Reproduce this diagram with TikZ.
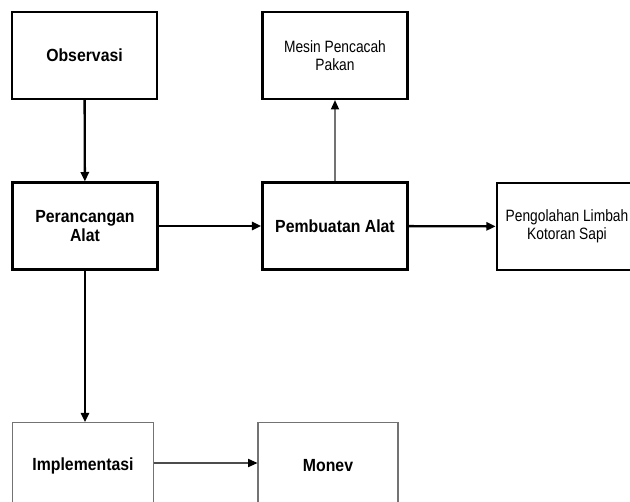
\documentclass[tikz,border=0pt]{standalone}
\usepackage{fontspec}
\setmainfont{Liberation Sans}
\newfontfamily\labelfont[FakeStretch=0.9]{Liberation Sans}
\newfontfamily\narrowfont[FakeStretch=0.84]{Liberation Sans}
\usetikzlibrary{arrows.meta}
\tikzset{>={Stealth[length=8pt,width=7pt,inset=0pt]}}

\begin{document}
\begin{tikzpicture}[x=0.03cm,y=-0.03cm,
  kotak/.style={draw, line width=2.2pt, minimum width=4.35cm, minimum height=2.6cm,
    align=center, inner sep=0pt, font=\labelfont\bfseries\fontsize{15}{16}\selectfont},
  kotakbiasa/.style={kotak, font=\narrowfont\fontsize{14}{15}\selectfont},
  kotaktipis/.style={kotak, draw=black!55, line width=0.9pt, minimum width=4.23cm},
  panah/.style={->, line width=2pt},
  panahtipis/.style={-{Stealth[length=8pt,width=7pt,inset=0pt,color=black]}, line width=1pt, draw=black!55}]
\useasboundingbox (0,0) rectangle (630,502);
\clip (0,0) rectangle (630,502);
% kotak
\node[kotak] (obs) at (84.5,55.5) {Observasi};
\node[kotakbiasa] (mesin) at (335,55.5) {Mesin Pencacah\\Pakan};
\node[kotak] (ranc) at (85,226) {Perancangan\\Alat};
\node[kotak] (buat) at (335,226) {Pembuatan Alat};
\node[kotakbiasa, minimum width=4.2cm] (olah) at (567,226.5) {Pengolahan Limbah\\Kotoran Sapi};
\node[kotaktipis] (impl) at (83,466) {Implementasi};
\node[kotaktipis, minimum width=4.2cm] (monev) at (328,466) {Monev};
% panah
\draw[panah] (obs) -- (ranc);
\draw[panah] (ranc) -- (buat);
\draw[panahtipis] (buat) -- (mesin);
\draw[panah] (buat) -- (olah);
\draw[panah] (ranc.south) -- (ranc.south |- impl.north);
\draw[panahtipis, draw=black!70] (impl.east |- 0,463) -- (monev.west |- 0,463);
\end{tikzpicture}
\end{document}
